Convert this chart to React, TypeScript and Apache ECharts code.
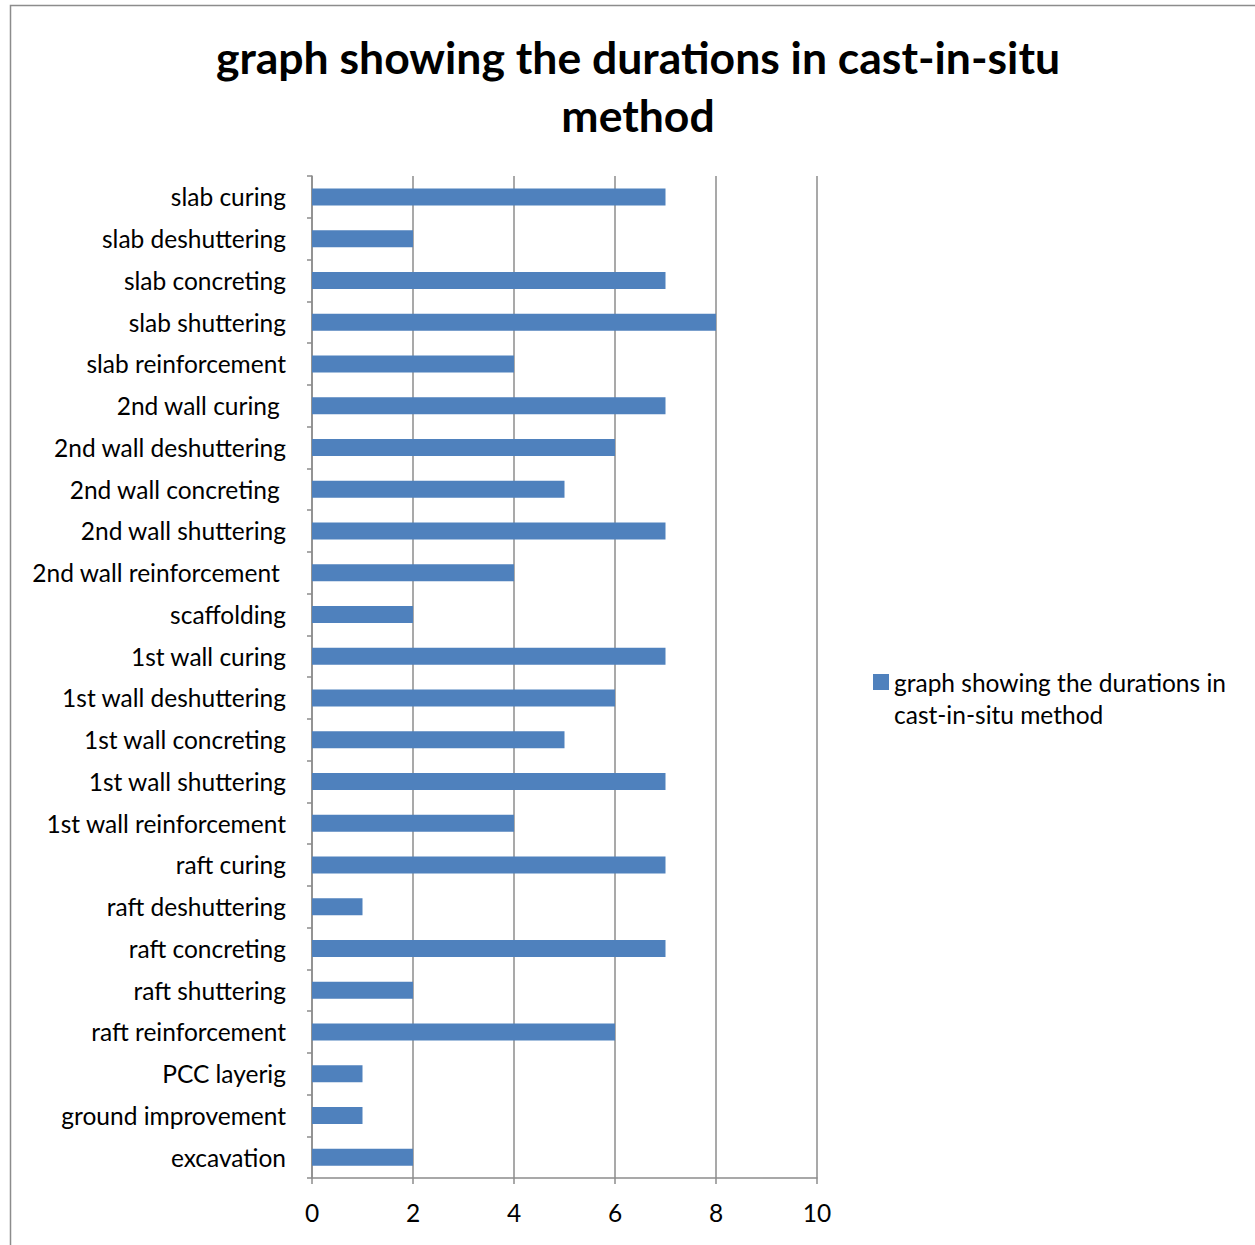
import React, { useEffect, useRef } from "react";
import * as echarts from "echarts";

const categories = [
  "excavation",
  "ground improvement",
  "PCC layerig",
  "raft reinforcement",
  "raft shuttering",
  "raft concreting",
  "raft deshuttering",
  "raft curing",
  "1st wall reinforcement",
  "1st wall shuttering",
  "1st wall concreting",
  "1st wall deshuttering",
  "1st wall curing",
  "scaffolding",
  "2nd wall reinforcement ",
  "2nd wall shuttering",
  "2nd wall concreting ",
  "2nd wall deshuttering",
  "2nd wall curing ",
  "slab reinforcement",
  "slab shuttering",
  "slab concreting",
  "slab deshuttering",
  "slab curing",
];
const durations = [2, 1, 1, 6, 2, 7, 1, 7, 4, 7, 5, 6, 7, 2, 4, 7, 5, 6, 7, 4, 8, 7, 2, 7];
const seriesName = "graph showing the durations in cast-in-situ method";
const titleText = "graph showing the durations in cast-in-situ\nmethod";
const legendLines = ["graph showing the durations in", "cast-in-situ method"];

const FONT = "Lato, 'Noto Sans', sans-serif";

export default function App() {
  const ref = useRef<HTMLDivElement>(null);
  useEffect(() => {
    document.body.style.margin = "0";
    const chart = echarts.init(ref.current!, null, { renderer: "svg" });
    chart.setOption({
      animation: false,
      backgroundColor: "#ffffff",
      textStyle: { fontFamily: FONT },
      title: {
        text: titleText,
        left: 633,
        textAlign: "center",
        top: 22,
        textStyle: {
          fontFamily: FONT,
          fontSize: 44.5,
          fontWeight: "bold",
          color: "#000",
          lineHeight: 58,
        },
      },
      graphic: [
        {
          type: "rect",
          shape: { x: 10.5, y: 5.5, width: 1270, height: 1270 },
          style: { fill: "none", stroke: "#8c8c8c", lineWidth: 1.5 },
          silent: true,
        },
      ],
      legend: {
        left: 873,
        top: 634,
        padding: 0,
        orient: "vertical",
        icon: "rect",
        itemWidth: 16,
        itemHeight: 16,
        formatter: () => " \n" + legendLines.join("\n"),
        textStyle: {
          fontFamily: FONT,
          fontSize: 24.5,
          color: "#000",
          lineHeight: 32,
        },
        data: [seriesName],
      },
      grid: { left: 312, right: 438, top: 176, bottom: 67 },
      xAxis: {
        type: "value",
        min: 0,
        max: 10,
        interval: 2,
        axisLine: { show: true, lineStyle: { color: "#8c8c8c", width: 1.5 } },
        axisTick: { show: true, length: 6, lineStyle: { color: "#8c8c8c", width: 1.5 } },
        splitLine: { show: true, lineStyle: { color: "#8c8c8c", width: 1.5 } },
        axisLabel: { fontFamily: FONT, fontSize: 24.5, color: "#000", margin: 22 },
      },
      yAxis: {
        type: "category",
        data: categories,
        axisLine: { show: true, lineStyle: { color: "#8c8c8c", width: 1.5 } },
        axisTick: { show: true, length: 5, lineStyle: { color: "#8c8c8c", width: 1.5 } },
        axisLabel: { fontFamily: FONT, fontSize: 24.5, color: "#000", margin: 26 },
      },
      series: [
        {
          name: seriesName,
          type: "bar",
          data: durations,
          barWidth: 17,
          itemStyle: { color: "#4F81BD" },
        },
      ],
    });
    return () => chart.dispose();
  }, []);
  return <div ref={ref} style={{ width: 1255, height: 1245 }} />;
}
